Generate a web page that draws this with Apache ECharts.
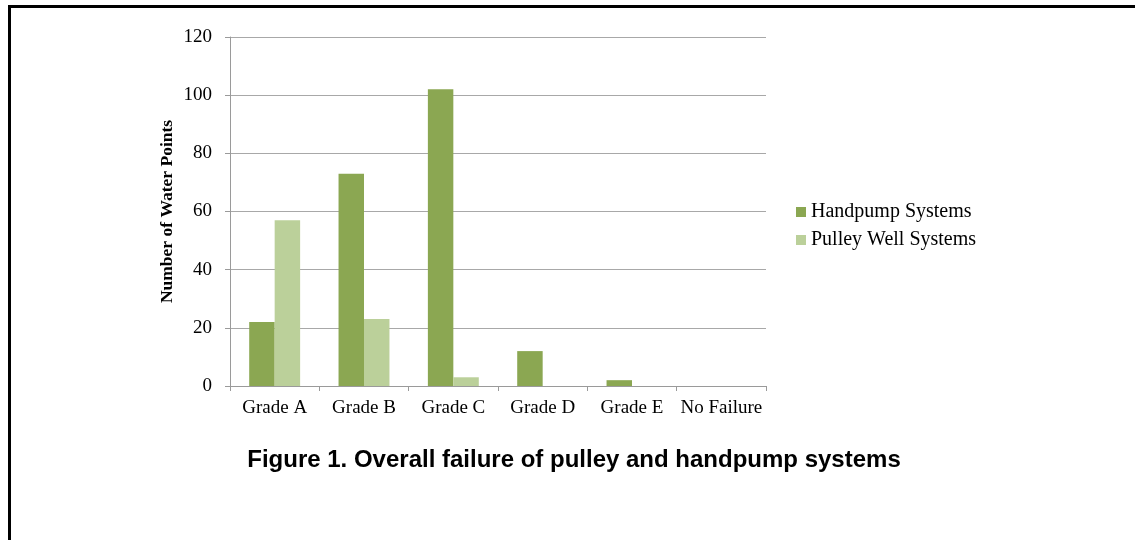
<!DOCTYPE html>
<html>
<head>
<meta charset="utf-8">
<script src="https://cdn.jsdelivr.net/npm/echarts@6/dist/echarts.min.js"></script>
<style>
html,body{margin:0;padding:0;background:#fff;}
#chart{width:1135px;height:540px;}
</style>
</head>
<body>
<div id="chart"></div>
<script>
const categories = ['Grade A', 'Grade B', 'Grade C', 'Grade D', 'Grade E', 'No Failure'];
const handpumpValues = [22, 73, 102, 12, 2, 0];
const pulleyValues = [57, 23, 3, 0, 0, 0];
const seriesNames = ['Handpump Systems', 'Pulley Well Systems'];
const titleText = 'Figure 1. Overall failure of pulley and handpump systems';
const yAxisName = 'Number of Water Points';

const serif = '"Liberation Serif", "Times New Roman", serif';
const chart = echarts.init(document.getElementById('chart'), null, {renderer: 'canvas'});
chart.setOption({
  backgroundColor: '#ffffff',
  animation: false,
  title: {
    text: titleText,
    left: 569, top: 443,
    textAlign: 'center',
    textStyle: {fontFamily: '"Liberation Sans", Arial, sans-serif', fontWeight: 'bold', fontSize: 24, color: '#000'}
  },
  graphic: [
    {type: 'rect', shape: {x: 8, y: 5, width: 1127, height: 3}, style: {fill: '#000'}},
    {type: 'rect', shape: {x: 8, y: 5, width: 3, height: 535}, style: {fill: '#000'}}
  ],
  legend: {
    orient: 'vertical',
    left: 796, top: 202, padding: 0,
    itemWidth: 10, itemHeight: 10, itemGap: 8,
    icon: 'rect',
    textStyle: {fontFamily: serif, fontSize: 20, color: '#000'},
    data: seriesNames
  },
  grid: {left: 230, right: 369, top: 37, bottom: 154},
  xAxis: {
    type: 'category',
    data: categories,
    axisLine: {show: true, lineStyle: {color: '#9a9a9a', width: 1}},
    axisTick: {show: true, length: 5, lineStyle: {color: '#9a9a9a'}},
    axisLabel: {fontFamily: serif, fontSize: 19, color: '#000', margin: 13, interval: 0}
  },
  yAxis: {
    type: 'value',
    min: 0, max: 120, interval: 20,
    name: yAxisName,
    nameLocation: 'middle',
    nameGap: 54,
    nameRotate: 90,
    nameTextStyle: {fontFamily: serif, fontWeight: 'bold', fontSize: 17.5, color: '#000'},
    axisLine: {show: true, lineStyle: {color: '#9a9a9a', width: 1}},
    axisTick: {show: true, length: 5, lineStyle: {color: '#9a9a9a'}},
    axisLabel: {fontFamily: serif, fontSize: 19, color: '#000', margin: 18},
    splitLine: {show: true, lineStyle: {color: '#a8a8a8', width: 1}}
  },
  series: [
    {name: seriesNames[0], type: 'bar', data: handpumpValues, barGap: '0%', barCategoryGap: '43%',
     itemStyle: {color: '#8ba752'}},
    {name: seriesNames[1], type: 'bar', data: pulleyValues, barGap: '0%', barCategoryGap: '43%',
     itemStyle: {color: '#bbd09a'}}
  ]
});
</script>
</body>
</html>
